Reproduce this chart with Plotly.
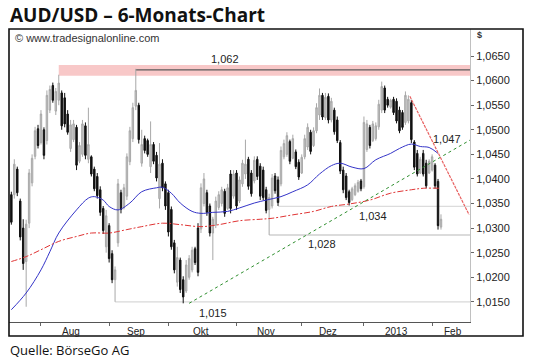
import pandas as pd
import plotly.graph_objects as go

# ---------------- data ----------------
start_date = "2012-07-18"
high = [1.0374,1.0440,1.0425,1.0360,1.0318,1.0317,1.0420,1.0450,1.0506,1.0510,
        1.0540,1.0505,1.0580,1.0590,1.0596,1.0585,1.0612,1.0580,1.0575,1.0540,
        1.0520,1.0520,1.0510,1.0475,1.0520,1.0515,1.0545,1.0448,1.0425,1.0412,
        1.0385,1.0345,1.0337,1.0310,1.0255,1.0222,1.0400,1.0378,1.0390,1.0452,
        1.0506,1.0555,1.0624,1.0555,1.0500,1.0488,1.0482,1.0517,1.0475,1.0455,
        1.0473,1.0440,1.0395,1.0378,1.0344,1.0276,1.0262,1.0240,1.0202,1.0235,
        1.0245,1.0262,1.0262,1.0310,1.0391,1.0412,1.0378,1.0350,1.0323,1.0364,
        1.0375,1.0384,1.0380,1.0390,1.0418,1.0418,1.0418,1.0405,1.0439,1.0480,
        1.0445,1.0418,1.0446,1.0446,1.0432,1.0425,1.0384,1.0370,1.0410,1.0412,
        1.0405,1.0466,1.0480,1.0495,1.0480,1.0490,1.0460,1.0440,1.0450,1.0490,
        1.0513,1.0500,1.0505,1.0554,1.0584,1.0575,1.0575,1.0574,1.0565,1.0545,
        1.0527,1.0479,1.0425,1.0412,1.0378,1.0384,1.0391,1.0398,1.0400,1.0527,
        1.0520,1.0510,1.0518,1.0515,1.0561,1.0598,1.0590,1.0567,1.0563,1.0567,
        1.0564,1.0547,1.0540,1.0578,1.0570,1.0561,1.0479,1.0459,1.0445,1.0459,
        1.0439,1.0440,1.0450,1.0432,1.0400,1.0328]
low = [1.0307,1.0360,1.0365,1.0275,1.0215,1.0140,1.0300,1.0385,1.0440,1.0462,
       1.0470,1.0440,1.0470,1.0534,1.0555,1.0530,1.0550,1.0500,1.0505,1.0490,
       1.0455,1.0475,1.0418,1.0432,1.0445,1.0440,1.0432,1.0405,1.0375,1.0360,
       1.0325,1.0288,1.0250,1.0230,1.0188,1.0150,1.0262,1.0330,1.0338,1.0357,
       1.0428,1.0475,1.0540,1.0472,1.0425,1.0452,1.0445,1.0412,1.0430,1.0395,
       1.0340,1.0375,1.0337,1.0283,1.0256,1.0208,1.0181,1.0168,1.0147,1.0168,
       1.0195,1.0210,1.0225,1.0202,1.0290,1.0344,1.0325,1.0283,1.0235,1.0300,
       1.0337,1.0344,1.0323,1.0337,1.0330,1.0360,1.0337,1.0351,1.0384,1.0400,
       1.0378,1.0364,1.0391,1.0398,1.0357,1.0357,1.0330,1.0286,1.0340,1.0370,
       1.0345,1.0385,1.0440,1.0445,1.0430,1.0440,1.0420,1.0398,1.0410,1.0440,
       1.0459,1.0450,1.0465,1.0493,1.0520,1.0520,1.0520,1.0513,1.0515,1.0490,
       1.0473,1.0410,1.0371,1.0357,1.0346,1.0355,1.0365,1.0372,1.0375,1.0380,
       1.0455,1.0462,1.0475,1.0478,1.0500,1.0534,1.0534,1.0545,1.0543,1.0530,
       1.0513,1.0493,1.0500,1.0510,1.0513,1.0473,1.0418,1.0405,1.0410,1.0405,
       1.0381,1.0410,1.0415,1.0380,1.0297,1.0297]
open_ = [1.0368,1.0368,1.0420,1.0355,1.0300,1.0232,1.0310,1.0392,1.0446,1.0502,
         1.0474,1.0500,1.0478,1.0540,1.0590,1.0538,1.0560,1.0575,1.0565,1.0532,
         1.0462,1.0480,1.0505,1.0436,1.0450,1.0508,1.0440,1.0445,1.0420,1.0405,
         1.0378,1.0340,1.0262,1.0305,1.0248,1.0195,1.0270,1.0372,1.0342,1.0365,
         1.0435,1.0482,1.0548,1.0550,1.0432,1.0482,1.0478,1.0425,1.0470,1.0448,
         1.0360,1.0432,1.0390,1.0372,1.0338,1.0270,1.0190,1.0235,1.0195,1.0172,
         1.0200,1.0215,1.0258,1.0300,1.0298,1.0350,1.0372,1.0345,1.0290,1.0306,
         1.0342,1.0350,1.0375,1.0340,1.0410,1.0365,1.0412,1.0355,1.0390,1.0410,
         1.0440,1.0412,1.0396,1.0440,1.0426,1.0418,1.0378,1.0338,1.0345,1.0406,
         1.0398,1.0390,1.0445,1.0450,1.0476,1.0442,1.0455,1.0434,1.0412,1.0445,
         1.0465,1.0495,1.0468,1.0498,1.0530,1.0570,1.0525,1.0568,1.0520,1.0540,
         1.0520,1.0474,1.0418,1.0406,1.0374,1.0358,1.0368,1.0375,1.0396,1.0384,
         1.0460,1.0505,1.0478,1.0482,1.0506,1.0540,1.0585,1.0562,1.0546,1.0562,
         1.0558,1.0540,1.0535,1.0515,1.0518,1.0555,1.0475,1.0452,1.0412,1.0452,
         1.0432,1.0412,1.0418,1.0428,1.0395,1.0302]
close = [1.0312,1.0430,1.0372,1.0282,1.0228,1.0308,1.0412,1.0442,1.0498,1.0468,
         1.0532,1.0448,1.0570,1.0582,1.0560,1.0578,1.0595,1.0508,1.0512,1.0495,
         1.0510,1.0512,1.0428,1.0468,1.0512,1.0448,1.0470,1.0410,1.0380,1.0366,
         1.0332,1.0295,1.0325,1.0238,1.0195,1.0215,1.0390,1.0338,1.0382,1.0445,
         1.0498,1.0545,1.0580,1.0480,1.0470,1.0458,1.0450,1.0470,1.0436,1.0402,
         1.0430,1.0382,1.0345,1.0292,1.0262,1.0215,1.0240,1.0175,1.0160,1.0225,
         1.0238,1.0255,1.0230,1.0210,1.0382,1.0400,1.0332,1.0290,1.0318,1.0355,
         1.0368,1.0378,1.0330,1.0382,1.0340,1.0410,1.0345,1.0398,1.0432,1.0430,
         1.0385,1.0370,1.0438,1.0405,1.0365,1.0362,1.0336,1.0362,1.0402,1.0376,
         1.0352,1.0458,1.0472,1.0488,1.0436,1.0482,1.0425,1.0404,1.0444,1.0482,
         1.0505,1.0456,1.0498,1.0545,1.0570,1.0526,1.0566,1.0520,1.0558,1.0496,
         1.0478,1.0416,1.0378,1.0362,1.0352,1.0380,1.0386,1.0393,1.0380,1.0515,
         1.0512,1.0468,1.0512,1.0508,1.0552,1.0588,1.0540,1.0550,1.0560,1.0535,
         1.0518,1.0498,1.0505,1.0570,1.0562,1.0480,1.0424,1.0410,1.0440,1.0410,
         1.0386,1.0436,1.0445,1.0386,1.0305,1.0318]

# moving averages (bar index, value)
ma_blue_idx = [0,5,10,13,16,22,26,28,31,33,36,40,44,49,51,54,57,61,64,68,73,77,82,86,
               91,95,100,104,108,111,115,119,123,128,131,135,138,141,144]
ma_blue_val = [1.0134,1.0168,1.0215,1.0252,1.0290,1.0337,1.0361,1.0364,1.0357,1.0344,
               1.0337,1.0351,1.0374,1.0382,1.0383,1.0371,1.0351,1.0334,1.0330,1.0332,
               1.0334,1.0341,1.0351,1.0357,1.0364,1.0374,1.0388,1.0410,1.0427,1.0432,
               1.0424,1.0421,1.0439,1.0452,1.0462,1.0471,1.0466,1.0464,1.0452]
ma_red_idx = [0,5,10,16,22,27,33,39,44,51,57,64,70,77,84,88,95,102,108,114,121,128,135,139,145]
ma_red_val = [1.0232,1.0242,1.0256,1.0273,1.0283,1.0290,1.0290,1.0297,1.0303,1.0310,
              1.0307,1.0303,1.0307,1.0315,1.0318,1.0320,1.0327,1.0334,1.0344,1.0349,
              1.0357,1.0371,1.0378,1.0381,1.0381]

# axis
x_start = "2012-07-17 05:00"
x_end = "2013-02-19 19:00"
y_ticks = [1.015,1.020,1.025,1.030,1.035,1.040,1.045,1.050,1.055,1.060,1.065]
month_label_dates = ["2012-08-15","2012-09-14","2012-10-16","2012-11-15",
                     "2012-12-14","2013-01-16","2013-02-12"]
month_labels = ["Aug","Sep","Okt","Nov","Dez","2013","Feb"]
month_start_dates = ["2012-08-01","2012-09-03","2012-10-01","2012-11-01",
                     "2012-12-03","2013-01-01","2013-02-01"]

# drawn levels (start bar index, value)
level_idx = [42, 35, 87, 90]
level_val = [1.0622, 1.0150, 1.0286, 1.0344]
level_col = ["#5a5a5a", "#d8d8d8", "#b8b8b8", "#dcdcdc"]
band_idx = 16
band_lo, band_hi = 1.0610, 1.0632

# trend lines (x0, y0, x1, y1)
green_trend = ["2012-10-10", 1.0147, x_end, 1.0479]
red_trend = ["2013-01-22 12:00", 1.0568, "2013-02-19 12:00", 1.0327]

label_text = ["1,062", "1,015", "1,028", "1,034", "1,047"]
label_x = ["2012-10-26", "2012-10-22", "2012-12-12", "2013-01-04", "2013-02-08"]
label_y = [1.0644, 1.0128, 1.0268, 1.0325, 1.0481]

# ---------------- figure ----------------
dates = pd.bdate_range(start_date, periods=len(high))

fig = go.Figure()

fig.add_shape(type="rect", xref="x", yref="y", x0=dates[band_idx], x1=x_end,
              y0=band_lo, y1=band_hi, fillcolor="#f8c8c8", line_width=0, layer="below")
for i, v, c in zip(level_idx, level_val, level_col):
    fig.add_shape(type="line", xref="x", yref="y", x0=dates[i], x1=x_end, y0=v, y1=v,
                  line=dict(color=c, width=1.2), layer="below")

fig.add_trace(go.Candlestick(
    x=dates, open=open_, high=high, low=low, close=close,
    increasing=dict(line=dict(color="#a8a8a8", width=1), fillcolor="#c4c4c4"),
    decreasing=dict(line=dict(color="#111111", width=1), fillcolor="#111111"),
    whiskerwidth=0, showlegend=False, hoverinfo="skip"))

fig.add_trace(go.Scatter(x=[dates[i] for i in ma_blue_idx], y=ma_blue_val, mode="lines",
                         line=dict(color="#3434c8", width=1, shape="spline"),
                         showlegend=False, hoverinfo="skip"))
fig.add_trace(go.Scatter(x=[dates[i] for i in ma_red_idx], y=ma_red_val, mode="lines",
                         line=dict(color="#e03434", width=1, dash="6px,2px,2px,2px", shape="spline"),
                         showlegend=False, hoverinfo="skip"))
fig.add_trace(go.Scatter(x=[green_trend[0], green_trend[2]], y=[green_trend[1], green_trend[3]],
                         mode="lines", line=dict(color="#2f8f2f", width=1, dash="dot"),
                         showlegend=False, hoverinfo="skip"))
fig.add_trace(go.Scatter(x=[red_trend[0], red_trend[2]], y=[red_trend[1], red_trend[3]],
                         mode="lines", line=dict(color="#e86060", width=1.2, dash="3px,1px"),
                         showlegend=False, hoverinfo="skip"))

for t, lx, ly in zip(label_text, label_x, label_y):
    fig.add_annotation(x=lx, y=ly, xref="x", yref="y", text=t, showarrow=False,
                       font=dict(family="Liberation Sans, Arial", size=11, color="#222"))

# month labels, centred in each month below the axis
for t, lx in zip(month_labels, month_label_dates):
    fig.add_annotation(x=lx, y=-0.031, xref="x", yref="paper", text=t, showarrow=False,
                       yanchor="middle",
                       font=dict(family="Liberation Sans, Arial", size=10, color="#222"))

# texts outside plot
fig.add_annotation(x=-0.003, y=1.049, xref="paper", yref="paper", xanchor="left", yanchor="middle",
                   text="<b>AUD/USD – 6-Monats-Chart</b>", showarrow=False,
                   font=dict(family="Open Sans", size=19, color="#111"))
fig.add_annotation(x=0.008, y=0.97, xref="paper", yref="paper", xanchor="left", yanchor="middle",
                   text="© www.tradesignalonline.com", showarrow=False,
                   font=dict(family="Liberation Sans, Arial", size=11, color="#333"))
fig.add_annotation(x=1.01, y=0.98, xref="paper", yref="paper", xanchor="left", yanchor="middle",
                   text="<b>$</b>", showarrow=False,
                   font=dict(family="Liberation Sans, Arial", size=9, color="#333"))
fig.add_annotation(x=-0.003, y=-0.095, xref="paper", yref="paper", xanchor="left", yanchor="middle",
                   text="Quelle: BörseGo AG", showarrow=False,
                   font=dict(family="Open Sans", size=13, color="#111"))

# outer frame
fig.add_shape(type="rect", xref="paper", yref="paper", x0=0, x1=(523 - 9) / 461,
              y0=-14 / 293, y1=1, line=dict(color="#111", width=1.6))

fig.update_layout(
    width=540, height=363,
    margin=dict(l=9, r=70, t=29, b=41),
    paper_bgcolor="white", plot_bgcolor="white",
    separators=",.",
    showlegend=False,
    xaxis=dict(
        type="date", range=[x_start, x_end],
        rangebreaks=[dict(bounds=["sat", "mon"])],
        rangeslider=dict(visible=False),
        tickmode="array", tickvals=month_start_dates, showticklabels=False,
        ticks="outside", ticklen=3, tickcolor="#666",
        showgrid=False, zeroline=False,
        showline=True, linecolor="#555", linewidth=1, mirror=False,
    ),
    yaxis=dict(
        side="right", range=[1.0109, 1.0705],
        tickmode="array", tickvals=y_ticks, tickformat=".4f",
        ticks="outside", ticklen=3, tickcolor="#666",
        showgrid=False, zeroline=False,
        showline=True, linecolor="#c0c0c0", linewidth=1,
        tickfont=dict(family="Liberation Sans, Arial", size=11, color="#222"),
    ),
)

fig.write_html("out.html",
               config={"displayModeBar": False},
               post_script="document.body.style.margin='0';document.body.style.padding='0';")
